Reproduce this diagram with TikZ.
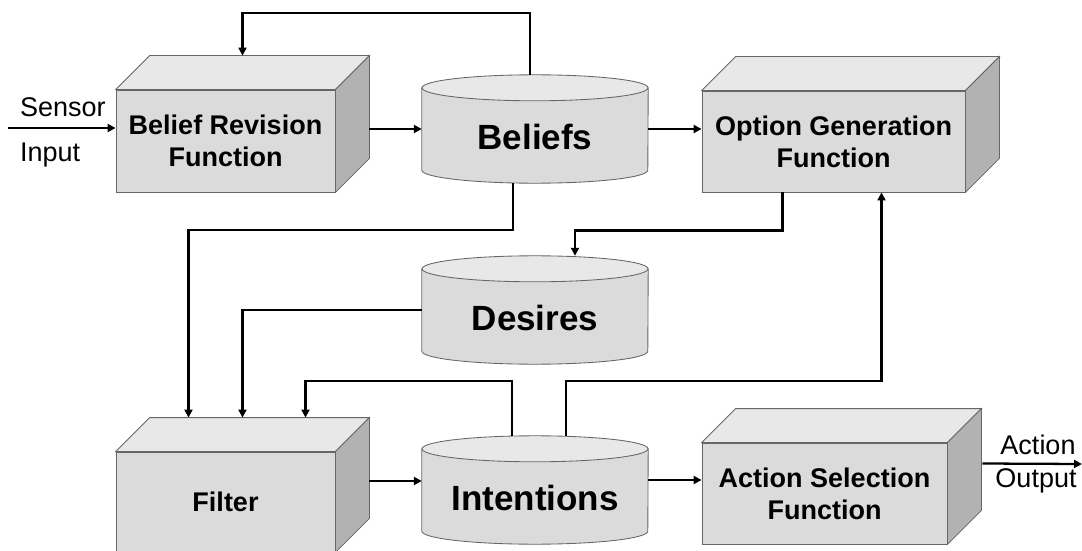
\documentclass[tikz,border=0pt]{standalone}
\usepackage{fontspec}
\setmainfont{Liberation Sans}
\usetikzlibrary{calc,arrows.meta}
\def\solidbox#1{%
	\draw[line width=0.3mm, color=black!60, fill=black!9] (#1.north west) -- ++(34,34) -- ($(#1.north east)+(34,34)$) -- (#1.north east) -- cycle;
	\draw[line width=0.3mm, color=black!60, fill=black!30] (#1.north east) -- ++(34,34) -- ($(#1.south east)+(34,34)$) -- (#1.south east) -- cycle;}
\def\drum#1#2{%
	\draw[line width=0.3mm, color=black!60, fill=black!14] ([yshift=-13pt]#1.north west) -- ([yshift=13pt]#1.south west) arc[start angle=180, end angle=360, x radius=113pt, y radius=13pt] -- ([yshift=-13pt]#1.north east) -- cycle;
	\draw[line width=0.3mm, color=black!60, fill=black!9] ([yshift=-13pt]#1.north) ellipse[x radius=113pt, y radius=13pt];
	\node[storetext] (#1-label) at ([yshift=-8pt]#1.center) {#2};}

\begin{document}
\begin{tikzpicture}[x=1pt, y=1pt,
	front/.style={draw=black!60, line width=0.3mm, fill=black!14, inner sep=0, align=center, font=\bfseries\fontsize{27}{32}\selectfont},
	store/.style={minimum width=226pt, minimum height=108pt, inner sep=0},
	storetext/.style={inner sep=0, font=\bfseries\fontsize{35}{40}\selectfont},
	plain/.style={inner sep=0, font=\fontsize{27}{32}\selectfont},
	flow/.style={line width=0.8mm, -{Triangle[length=8pt, width=8pt]}}]
			%%%%% START %%%%%
			\useasboundingbox (0,0) rectangle (1082,-551);
			
			% function boxes
			\node[front, minimum width=219pt, minimum height=102pt] (brf) at (225.5,-141) {Belief Revision\\Function};
			\solidbox{brf}
			\node[front, minimum width=263pt, minimum height=101pt] (opt) at (833.5,-141.5) {Option Generation\\Function};
			\solidbox{opt}
			\node[front, minimum width=219pt, minimum height=100pt] (flt) at (225.5,-502) {Filter};
			\solidbox{flt}
			\node[front, minimum width=245pt, minimum height=101pt] (act) at (824.5,-493.5) {Action Selection\\Function};
			\solidbox{act}
			
			% stores
			\node[store] (bel) at (535,-129) {};
			\drum{bel}{Beliefs}
			\node[store] (des) at (535,-310) {};
			\drum{des}{Desires}
			\node[store] (int) at (535,-490) {};
			\drum{int}{Intentions}
			
			% in and out
			\coordinate (sensor) at (8,-128);
			\coordinate (output) at (1082,-464);
			\node[plain, anchor=base west] (sensor-top) at (20,-117) {Sensor};
			\node[plain, anchor=base west] (sensor-bot) at (20,-161) {Input};
			\node[plain, anchor=base] (output-top) at (1038,-454) {Action};
			\node[plain, anchor=base] (output-bot) at (1036,-487) {Output};
			
			\draw[flow] (sensor) -- (sensor -| brf.west);
			\draw[flow] ([xshift=34pt]brf.east |- bel.west) -- (bel.west);
			\draw[flow] (bel.east) -- (bel.east -| opt.west);
			\draw[flow] ([xshift=-5pt]bel.north) -- ++(0,62) -| ([shift={(17pt,34pt)}]brf.north);
			\draw[flow] ([xshift=-22pt]bel.south) -- ++(0,-47) -| ([shift={(-37pt,34pt)}]flt.north);
			\draw[flow] (des.west) -| ([shift={(17pt,34pt)}]flt.north);
			\draw[flow] ([xshift=-51pt]opt.south) -- ++(0,-38) -| ([xshift=40pt]des.north);
			\draw[flow] ([xshift=-23pt]int.north) -- ++(0,55) -| ([shift={(80pt,34pt)}]flt.north);
			\draw[flow] ([xshift=31pt]int.north) -- ++(0,55) -| ([xshift=48pt]opt.south);
			\draw[flow] ([shift={(34pt,21pt)}]flt.east) -- ([yshift=21pt]flt.east -| int.west);
			\draw[flow] ([yshift=10pt]int.east) -- ([yshift=10pt]int.east -| act.west);
			\draw[flow] ([shift={(35pt,30pt)}]act.east) -- (output);
			
			%%%%% END %%%%%
\end{tikzpicture}
\end{document}
